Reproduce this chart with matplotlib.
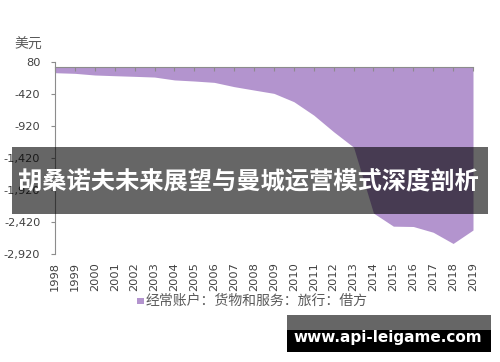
import matplotlib.pyplot as plt
from matplotlib.patches import Rectangle

plt.rcParams['font.family'] = ['Noto Sans CJK SC', 'DejaVu Sans']

# 经常账户：货物和服务：旅行：借方 (美元)
years = [str(y) for y in range(1998, 2020)]
values = [-87, -97, -123, -134, -144, -155, -200, -217, -238, -305, -358,
          -410, -540, -750, -1010, -1250, -2280, -2485, -2490, -2580, -2755, -2545]
yticks = [80, -420, -920, -1420, -1920, -2420, -2920]
ytick_labels = ['80', '-420', '-920', '-1,420', '-1,920', '-2,420', '-2,920']

FILL = '#B394CE'
AXC = '#8C8C8C'
TXT = '#404040'

fig = plt.figure(figsize=(5, 3.62), dpi=100)
ax = fig.add_axes([0.11, 0.2983, 0.836, 0.5304])

x = list(range(len(years)))
ax.fill_between(x, 0, values, color=FILL, lw=0)

ax.set_xlim(0, len(years) - 1)
ax.set_ylim(-2920, 80)

for s in ['top', 'right']:
    ax.spines[s].set_visible(False)
ax.spines['left'].set_color(AXC)
ax.spines['bottom'].set_color(AXC)
ax.spines['bottom'].set_position(('data', 0))
ax.spines['bottom'].set_zorder(3)

ax.set_yticks(yticks)
ax.set_yticklabels(ytick_labels, family='DejaVu Sans')
ax.tick_params(axis='y', length=3, color=AXC, pad=7.5, labelsize=8.2, labelcolor=TXT)
ax.set_xticks(x)
ax.tick_params(axis='x', direction='out', length=3, color=AXC, labelbottom=False)

# year labels at the bottom of the plot area
sec = ax.secondary_xaxis('bottom')
sec.spines['bottom'].set_visible(False)
sec.set_xticks(x)
sec.set_xticklabels(years, rotation=90, family='DejaVu Sans')
sec.tick_params(length=0, pad=6, labelsize=8.2, labelcolor=TXT)

fig.text(0.028, 0.876, '美元', fontsize=10, color='#595959', va='center', ha='left')

# legend
fig.patches.append(Rectangle((0.274, 0.159), 0.014, 0.019, transform=fig.transFigure,
                             color=FILL, lw=0))
fig.text(0.292, 0.168, '经常账户：货物和服务：旅行：借方', fontsize=10, color='#595959',
         va='center', ha='left')

# overlay banners
fig.patches.append(Rectangle((0.024, 0.409), 0.952, 0.185, transform=fig.transFigure,
                             facecolor='black', alpha=0.6, lw=0, zorder=5))
fig.text(0.497, 0.50, '胡桑诺夫未来展望与曼城运营模式深度剖析', fontsize=17.5, color='white',
         fontweight='bold', ha='center', va='center', zorder=6)
fig.patches.append(Rectangle((0.574, 0.088), 0.408, 0.042, transform=fig.transFigure,
                             facecolor='black', alpha=0.6, lw=0, zorder=5))
fig.patches.append(Rectangle((0.574, 0.027), 0.408, 0.061, transform=fig.transFigure,
                             facecolor='black', lw=0, zorder=5))
fig.text(0.776, 0.069, 'www.api-leigame.com', fontsize=11, color='white',
         fontweight='bold', family='DejaVu Sans', ha='center', va='center', zorder=6)

fig.savefig('out.png', dpi=100)
